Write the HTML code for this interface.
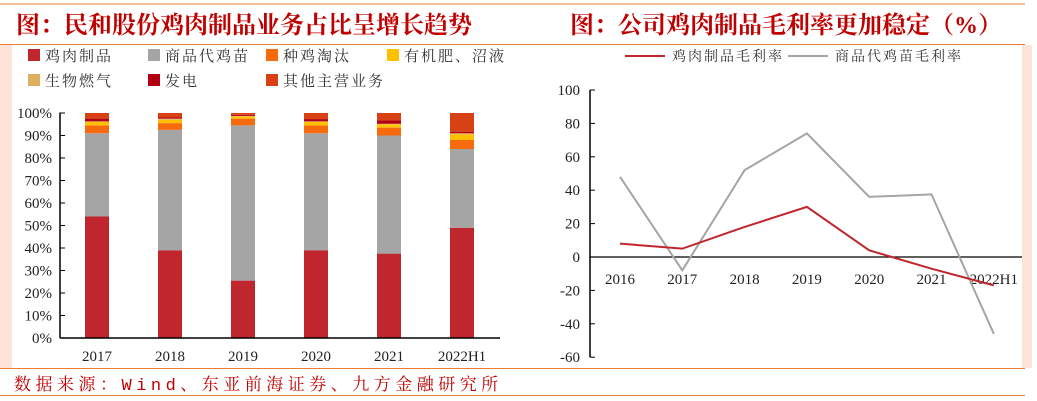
<!DOCTYPE html>
<html><head><meta charset="utf-8">
<style>
body{margin:0;background:#fff;width:1037px;height:401px;overflow:hidden;position:relative;font-family:"Liberation Serif","Noto Serif CJK SC",serif;}
.ab{position:absolute}
</style></head>
<body>
<svg class="ab" style="left:0;top:0" width="1037" height="401">
  <rect x="0" y="45" width="12" height="323" fill="#fce4d8"/>
  <rect x="1022" y="45" width="10" height="323" fill="#fce4d8"/>
  <line x1="0" y1="4" x2="1025" y2="4" stroke="#ed7d31" stroke-width="1"/>
  <line x1="0" y1="44.5" x2="1025" y2="44.5" stroke="#ed7d31" stroke-width="1"/>
  <line x1="0" y1="368.5" x2="1025" y2="368.5" stroke="#ed7d31" stroke-width="1"/>
  <line x1="0" y1="395.5" x2="1025" y2="395.5" stroke="#ed7d31" stroke-width="1"/>
  <text x="16" y="33" font-size="24" font-weight="bold" fill="#c00000" font-family="'Liberation Serif','Noto Serif CJK SC',serif">图：民和股份鸡肉制品业务占比呈增长趋势</text>
  <text x="570" y="33" font-size="24" font-weight="bold" fill="#c00000" font-family="'Liberation Serif','Noto Serif CJK SC',serif">图：公司鸡肉制品毛利率更加稳定（%）</text>
  <text x="14" y="390" font-size="17" fill="#c00000" letter-spacing="4.5" font-family="'Liberation Mono','Noto Serif CJK SC',monospace">数据来源：Wind、东亚前海证券、九方金融研究所</text>
  <g id="left"></g>
  <g id="right"></g>
</svg>
<script>
const barCats=["2017","2018","2019","2020","2021","2022H1"];
const seriesNames=["鸡肉制品","商品代鸡苗","种鸡淘汰","有机肥、沼液","生物燃气","发电","其他主营业务"];
const sChicken=[54,39,25.5,39,37.5,49];
const sChicks=[37,53.5,69,52,52.5,35];
const sCull=[3.5,3,3,3.5,3.5,4];
const sFert=[1.5,1.5,1,1.5,1.5,2.5];
const sGas=[0.3,0.5,0.2,0.3,0.2,0.5];
const sPower=[1.2,0.5,0.5,1,1.5,0.7];
const sOther=[2.5,2,0.8,2.7,3.3,8.3];
const yTicksL=[0,10,20,30,40,50,60,70,80,90,100];
const lineCats=["2016","2017","2018","2019","2020","2021","2022H1"];
const chickenMargin=[8,5,18,30,4,-7,-17];
const chicksMargin=[48,-8,52,74,36,37.5,-46];
const yTicksR=[-60,-40,-20,0,20,40,60,80,100];

const NS="http://www.w3.org/2000/svg";
function mk(parent,tag,attrs){const e=document.createElementNS(NS,tag);for(const k in attrs)e.setAttribute(k,attrs[k]);parent.appendChild(e);return e;}
const colors=["#c0262d","#a5a5a5","#f76b0c","#ffc000","#deb05e","#b00012","#d74114"];
const series=[sChicken,sChicks,sCull,sFert,sGas,sPower,sOther];

const L=document.getElementById('left');
const yL=v=>338-v*2.25;
const xL=i=>97+i*73;
yTicksL.forEach(t=>{
  const tx=mk(L,'text',{x:52,y:yL(t)+5,'font-size':15,'text-anchor':'end',fill:'#222'});
  
  
  tx.textContent=t+'%';
  const tk=mk(L,'line',{x1:60,x2:65,y1:yL(t),y2:yL(t),stroke:'#000'});
  
  
});
barCats.forEach((c,i)=>{
  let acc=0;
  series.forEach((s,j)=>{
    const r=mk(L,'rect',{x:xL(i)-12,width:24,y:yL(acc+s[i]),height:s[i]*2.25,fill:colors[j]});
    
    
    acc+=s[i];
  });
  const tx=mk(L,'text',{x:xL(i),y:361,'font-size':15,'text-anchor':'middle',fill:'#222'});
  
  
  tx.textContent=c;
});
const ya=mk(L,'line',{x1:60,x2:60,y1:yL(100)-0.5,y2:yL(0),stroke:'#000','stroke-width':1.5});


const xa=mk(L,'line',{x1:60,x2:500,y1:yL(0),y2:yL(0),stroke:'#000','stroke-width':1.5});


const legPos=[[28,55],[148,55],[266,55],[387,55],[28,80],[148,80],[266,80]];
seriesNames.forEach((n,j)=>{
  const [x,y]=legPos[j];
  const sq=mk(L,'rect',{x:x,y:y-6,width:12,height:12,fill:colors[j]});
  
  
  const tx=mk(L,'text',{x:x+17,y:y+6,'font-size':15,fill:'#333','letter-spacing':'2'});
  
  
  tx.textContent=n;
});

const R=document.getElementById('right');
const yR=v=>257-v*1.67;
const xR=i=>620+i*62.3;
yTicksR.forEach(t=>{
  const tx=mk(R,'text',{x:580,y:yR(t)+5,'font-size':15,'text-anchor':'end',fill:'#222'});
  
  
  tx.textContent=t;
  const tk=mk(R,'line',{x1:590,x2:595,y1:yR(t),y2:yR(t),stroke:'#000'});
  
  
});
lineCats.forEach((c,i)=>{
  const tx=mk(R,'text',{x:xR(i),y:284,'font-size':15,'text-anchor':'middle',fill:'#222'});
  
  
  tx.textContent=c;
});
const ry=mk(R,'line',{x1:590,x2:590,y1:yR(100),y2:yR(-60),stroke:'#000','stroke-width':1.5});


const rx=mk(R,'line',{x1:590,x2:1022,y1:yR(0),y2:yR(0),stroke:'#000','stroke-width':1.2});


const pg=mk(R,'polyline',{points:chicksMargin.map((v,i)=>xR(i)+','+yR(v)).join(' '),fill:'none',stroke:'#a5a5a5','stroke-width':2});


const pr=mk(R,'polyline',{points:chickenMargin.map((v,i)=>xR(i)+','+yR(v)).join(' '),fill:'none',stroke:'#c0262d','stroke-width':2});


const l1=mk(R,'line',{x1:625,x2:665,y1:56,y2:56,stroke:'#c0262d','stroke-width':2});


const t1=mk(R,'text',{x:672,y:61,'font-size':14,fill:'#333','letter-spacing':'2'});


t1.textContent='鸡肉制品毛利率';
const l2=mk(R,'line',{x1:788,x2:828,y1:56,y2:56,stroke:'#a5a5a5','stroke-width':2});


const t2=mk(R,'text',{x:835,y:61,'font-size':14,fill:'#333','letter-spacing':'2'});


t2.textContent='商品代鸡苗毛利率';
</script>
</body></html>
